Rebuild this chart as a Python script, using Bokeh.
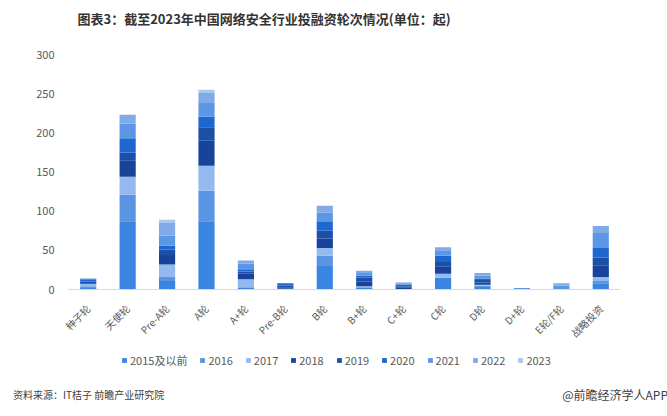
from bokeh.plotting import figure
from bokeh.models import Label, Legend, LegendItem, ColumnDataSource, Range1d, Div
from bokeh.layouts import column
from bokeh.embed import file_html
from bokeh.resources import INLINE
import math

categories = ["种子轮", "天使轮", "Pre-A轮", "A轮", "A+轮", "Pre-B轮", "B轮", "B+轮",
              "C+轮", "C轮", "D轮", "D+轮", "E轮/F轮", "战略投资"]
years = ["2015及以前", "2016", "2017", "2018", "2019", "2020", "2021", "2022", "2023"]

y2015 = [2, 87, 11, 87, 2, 0, 30, 2, 0, 15, 4, 0, 0, 8]
y2016 = [2, 34, 5, 39, 1, 1, 13, 1, 0, 0, 1, 0, 0, 3]
y2017 = [3, 23, 16, 32, 10, 0, 10, 1, 0, 5, 1, 0, 0, 5]
y2018 = [1, 21, 12, 32, 7, 2, 12, 6, 3, 9, 3, 0, 0, 15]
y2019 = [2, 10, 7, 17, 3, 2, 10, 5, 1, 6, 3, 0, 0, 10]
y2020 = [3, 18, 5, 14, 3, 3, 12, 3, 2, 8, 2, 0, 0, 12]
y2021 = [1, 19, 13, 17, 7, 0, 11, 3, 2, 7, 4, 2, 5, 19]
y2022 = [0, 11, 16, 13, 4, 0, 9, 3, 1, 4, 3, 0, 3, 9]
y2023 = [0, 0, 4, 4, 0, 0, 0, 0, 0, 0, 0, 0, 0, 0]

colors = ["#3a84e2", "#5a94e2", "#94b9ee", "#17449a", "#1b4fa8", "#1f67d0",
          "#5b97e4", "#80aae8", "#aac7f0"]

title_text = "图表3：截至2023年中国网络安全行业投融资轮次情况(单位：起)"
source_text = "资料来源：IT桔子 前瞻产业研究院"
brand_text = "@前瞻经济学人APP"

FONT = "Noto Sans CJK SC"
W = 667
FL, FR = 68, 620   # frame left / right in page pixels


def blank(height):
    # frame edges get aligned to the main chart's frame (FL..FR) by the column,
    # so data x == page x inside it; data y == offset from the strip's top
    f = figure(width=W, height=height, x_range=Range1d(FL, FR), y_range=Range1d(height, 0),
               output_backend="svg", toolbar_location=None,
               x_axis_location=None, y_axis_location=None,
               min_border_left=FL, min_border_right=W - FR,
               min_border_top=0, min_border_bottom=0)
    f.outline_line_color = None
    f.xgrid.grid_line_color = None
    f.ygrid.grid_line_color = None
    return f


# ---- title strip (page y 0..40)
pt = blank(40)
pt.add_layout(Label(x=77, y=18, text=title_text,
                    text_font=FONT, text_font_size="13px", text_font_style="bold",
                    text_color="#333333", text_align="left", text_baseline="middle"))

# ---- main chart (page y 40..350)
src = ColumnDataSource(dict(cat=categories, **{
    years[0]: y2015, years[1]: y2016, years[2]: y2017, years[3]: y2018,
    years[4]: y2019, years[5]: y2020, years[6]: y2021, years[7]: y2022,
    years[8]: y2023}))

p = figure(x_range=categories, y_range=(0, 300), width=W, height=310,
           output_backend="svg", toolbar_location=None,
           min_border_left=FL, min_border_right=W - FR, min_border_top=14,
           min_border_bottom=61)
p.outline_line_color = None
p.xgrid.grid_line_color = None
p.ygrid.grid_line_color = None

p.vbar_stack(years, x="cat", width=0.41, color=colors, source=src, line_color=None)

p.yaxis.ticker = [0, 50, 100, 150, 200, 250, 300]
p.yaxis.axis_line_color = None
p.yaxis.major_tick_line_color = None
p.yaxis.minor_tick_line_color = None
p.yaxis.major_label_text_font = FONT
p.yaxis.major_label_text_font_size = "11px"
p.yaxis.major_label_text_color = "#595959"
p.yaxis.major_label_standoff = 8

p.xaxis.axis_line_color = "#d9d9d9"
p.xaxis.major_tick_line_color = None
p.xaxis.minor_tick_line_color = None
p.xaxis.major_label_orientation = math.pi / 4
p.xaxis.major_label_text_font = FONT
p.xaxis.major_label_text_font_size = "10px"
p.xaxis.major_label_text_color = "#595959"
p.xaxis.major_label_standoff = 11

# ---- legend strip (page y 350..380)
pl = blank(30)
items = []
nan = float("nan")
for yr, c in zip(years, colors):
    # swatch-only renderers: one NaN bar, so nothing is drawn in the strip
    r = pl.vbar(x=[nan], top=[nan], bottom=[nan], width=1, color=c, line_color=None)
    items.append(LegendItem(label=yr, renderers=[r]))
legend = Legend(items=items, orientation="horizontal", location=(121 - FL, 12),
                border_line_color=None, background_fill_alpha=0,
                glyph_width=6, glyph_height=6, label_standoff=3, spacing=12,
                padding=0, margin=0,
                label_text_font=FONT, label_text_font_size="11px",
                label_text_color="#595959")
pl.add_layout(legend, "center")

# ---- footer (page y 380..416)
footer = Div(
    text=(f'<div style="display:flex;justify-content:space-between;align-items:center;'
          f'box-sizing:border-box;width:{W}px;height:20px;padding:0 4px 0 8px;'
          f"font-family:'{FONT}';color:#404040;\">"
          f'<span style="font-size:10px">{source_text}</span>'
          f'<span style="font-size:12px">{brand_text}</span></div>'),
    width=W, height=36)

layout = column(pt, p, pl, footer, spacing=0)
open("out.html", "w").write(file_html(layout, INLINE))
